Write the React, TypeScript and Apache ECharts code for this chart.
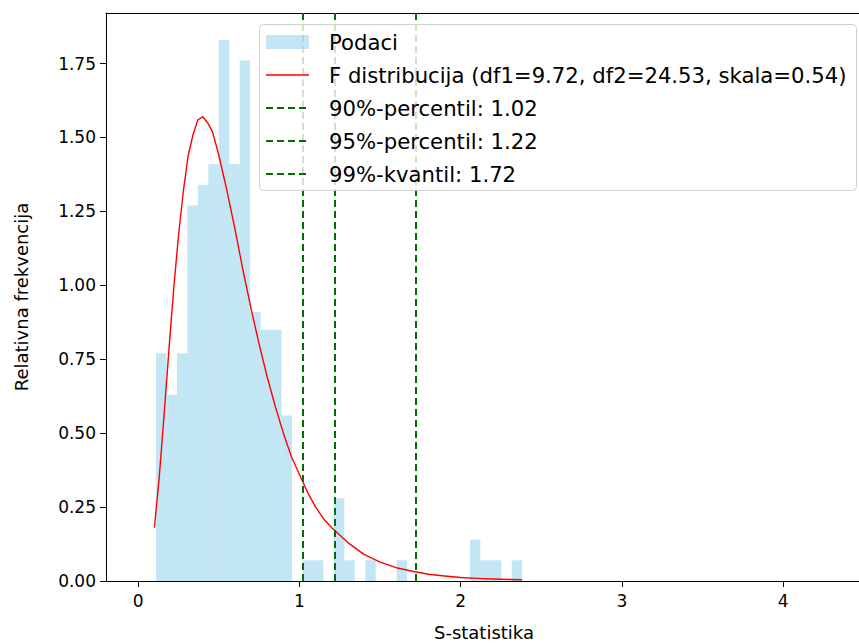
import React, { useEffect, useRef } from "react";
import * as echarts from "echarts";

// Histogram (density) of S-statistic
const binStart = 0.11;
const binWidth = 0.0649;
const densities = [
  0.77, 0.63, 0.77, 1.27, 1.34, 1.41, 1.83, 1.41, 1.76, 0.91, 0.85, 0.85, 0.56,
  0, 0.07, 0.07, 0, 0.28, 0.07, 0, 0.07, 0, 0, 0.07, 0, 0, 0, 0, 0, 0, 0.14,
  0.07, 0.07, 0, 0.07,
];

// F distribution curve
const curveX = [
  0.1, 0.13, 0.16, 0.19, 0.22, 0.25, 0.28, 0.31, 0.34, 0.37, 0.4, 0.43, 0.46,
  0.5, 0.55, 0.6, 0.65, 0.7, 0.75, 0.8, 0.85, 0.9, 0.95, 1.0, 1.05, 1.1, 1.15,
  1.2, 1.3, 1.4, 1.5, 1.6, 1.7, 1.8, 1.9, 2.0, 2.1, 2.2, 2.3, 2.38,
];
const curveY = [
  0.18, 0.35, 0.56, 0.78, 0.99, 1.17, 1.32, 1.44, 1.51, 1.56, 1.57, 1.55, 1.52,
  1.44, 1.32, 1.19, 1.05, 0.92, 0.8, 0.69, 0.59, 0.5, 0.42, 0.36, 0.3, 0.25,
  0.21, 0.18, 0.13, 0.09, 0.064, 0.045, 0.033, 0.023, 0.017, 0.012, 0.009,
  0.007, 0.005, 0.004,
];

const percentileValues = [1.02, 1.22, 1.72];
const legendLabels = [
  "Podaci",
  "F distribucija (df1=9.72, df2=24.53, skala=0.54)",
  "90%-percentil: 1.02",
  "95%-percentil: 1.22",
  "99%-kvantil: 1.72",
];
const xTicks = [0, 1, 2, 3, 4];
const yTicks = [0, 0.25, 0.5, 0.75, 1.0, 1.25, 1.5, 1.75];

const FONT = "DejaVu Sans";
const BAR_COLOR = "rgba(135,206,235,0.5)";
const GREEN = "#006e00";

export default function App() {
  const ref = useRef<HTMLDivElement>(null);

  useEffect(() => {
    if (!ref.current) return;
    const chart = echarts.init(ref.current, null, { renderer: "svg" });

    const histData = densities.map((d, i) => [
      binStart + i * binWidth,
      binStart + (i + 1) * binWidth,
      d,
    ]);
    const curveData = curveX.map((x, i) => [x, curveY[i]]);

    const rowY = [42, 75, 108, 141, 174];
    const legendGraphics: any[] = [
      {
        type: "rect",
        z: 100,
        shape: { x: 259.5, y: 24.5, width: 597, height: 166, r: 4 },
        style: { fill: "rgba(255,255,255,0.8)", stroke: "#d0d0d0", lineWidth: 1 },
      },
      {
        type: "rect",
        z: 101,
        shape: { x: 266, y: rowY[0] - 7, width: 43, height: 14 },
        style: { fill: BAR_COLOR },
      },
      {
        type: "line",
        z: 101,
        shape: { x1: 266, y1: rowY[1], x2: 309, y2: rowY[1] },
        style: { stroke: "#ff0000", lineWidth: 1.4 },
      },
    ];
    for (let i = 2; i < 5; i++) {
      legendGraphics.push({
        type: "line",
        z: 101,
        shape: { x1: 266, y1: rowY[i], x2: 309, y2: rowY[i] },
        style: { stroke: GREEN, lineWidth: 2, lineDash: [7, 4] },
      });
    }
    legendLabels.forEach((t, i) => {
      legendGraphics.push({
        type: "text",
        z: 101,
        x: 329,
        y: rowY[i],
        style: {
          text: t,
          fontFamily: FONT,
          fontSize: 21.2,
          fill: "#000",
          verticalAlign: "middle",
          align: "left",
        },
      });
    });

    chart.setOption({
      animation: false,
      backgroundColor: "#fff",
      grid: { left: 106, top: 13, width: 758, height: 568, containLabel: false },
      xAxis: [
        {
          type: "value",
          min: -0.2,
          max: 4.47,
          axisLine: { show: true, onZero: false, lineStyle: { color: "#000", width: 1 } },
          axisTick: { show: true, length: 6, lineStyle: { color: "#000" }, customValues: xTicks },
          axisLabel: {
            customValues: xTicks,
            fontSize: 17,
            fontFamily: FONT,
            color: "#000",
            margin: 11,
            formatter: (v: number) => String(v),
          },
          splitLine: { show: false },
        },
        {
          type: "value",
          position: "top",
          min: -0.2,
          max: 4.47,
          axisLine: { show: true, onZero: false, lineStyle: { color: "#000", width: 1 } },
          axisTick: { show: false },
          axisLabel: { show: false },
          splitLine: { show: false },
        },
      ],
      yAxis: {
        type: "value",
        min: 0,
        max: 1.921,
        axisLine: { show: true, onZero: false, lineStyle: { color: "#000", width: 1 } },
        axisTick: { show: true, length: 6, lineStyle: { color: "#000" }, customValues: yTicks },
        axisLabel: {
          customValues: yTicks,
          fontSize: 17,
          fontFamily: FONT,
          color: "#000",
          margin: 10,
          formatter: (v: number) => v.toFixed(2),
        },
        splitLine: { show: false },
      },
      series: [
        {
          type: "custom",
          name: "Podaci",
          data: histData,
          encode: { x: [0, 1], y: 2 },
          renderItem: (params: any, api: any) => {
            const p0 = api.coord([api.value(0), api.value(2)]);
            const p1 = api.coord([api.value(1), 0]);
            return {
              type: "rect",
              shape: { x: p0[0], y: p0[1], width: p1[0] - p0[0], height: p1[1] - p0[1] },
              style: { fill: BAR_COLOR },
            };
          },
          z: 1,
        },
        {
          type: "line",
          name: "F distribucija",
          data: curveData,
          showSymbol: false,
          smooth: false,
          lineStyle: { color: "#ff0000", width: 1.4, join: "round" },
          z: 3,
        },
        {
          type: "line",
          name: "percentili",
          data: [],
          z: 4,
          markLine: {
            silent: true,
            symbol: ["none", "none"],
            label: { show: false },
            lineStyle: { color: GREEN, type: [7, 4], width: 2 },
            data: percentileValues.map((v) => ({ xAxis: v })),
          },
        },
      ],
      graphic: [
        ...legendGraphics,
        {
          type: "text",
          x: 484,
          y: 632,
          style: {
            text: "S-statistika",
            fontFamily: FONT,
            fontSize: 18,
            fill: "#000",
            align: "center",
            verticalAlign: "middle",
          },
        },
        {
          type: "text",
          x: 21,
          y: 297,
          rotation: Math.PI / 2,
          style: {
            text: "Relativna frekvencija",
            fontFamily: FONT,
            fontSize: 18,
            fill: "#000",
            align: "center",
            verticalAlign: "middle",
          },
        },
      ],
    });

    return () => chart.dispose();
  }, []);

  return (
    <div
      ref={ref}
      style={{ position: "absolute", left: 0, top: 0, width: 859, height: 644 }}
    />
  );
}
